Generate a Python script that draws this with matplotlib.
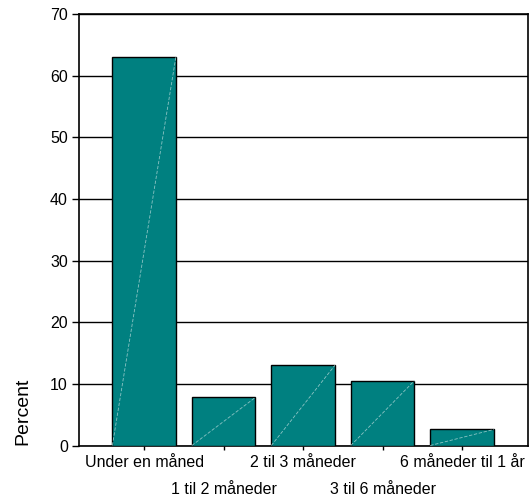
import numpy as np
import matplotlib.pyplot as plt

plt.rcParams['font.family'] = ['Liberation Sans', 'DejaVu Sans']

categories = ['Under en måned', '1 til 2 måneder', '2 til 3 måneder',
              '3 til 6 måneder', '6 måneder til 1 år']
percent = [63.1, 7.8, 13.0, 10.5, 2.6]
yticks = [0, 10, 20, 30, 40, 50, 60, 70]

fig = plt.figure(figsize=(5.29, 4.98), dpi=100)
ax = fig.add_axes([79 / 529, 1 - 445.5 / 498, 449 / 529, 431.5 / 498])

x = np.arange(len(categories))
width = 0.8
bars = ax.bar(x, percent, width=width, color='#008080', edgecolor='black',
              linewidth=1.0, zorder=3)

# faint diagonal across each bar
for b in bars:
    x0 = b.get_x()
    ax.plot([x0, x0 + b.get_width()], [0, b.get_height()], color='#8cc4c4',
            lw=0.6, ls=(0, (4, 2)), zorder=4)

ax.set_xlim(-0.82, len(categories) - 1 + 0.83)
ax.set_ylim(0, 70)
ax.set_yticks(yticks)
ax.yaxis.grid(True, color='black', lw=1.0, zorder=0)
ax.set_axisbelow(True)

for s in ax.spines.values():
    s.set_linewidth(1.2)
    s.set_color('black')

ax.tick_params(axis='y', length=5, width=1, labelsize=11.5, pad=3)
ax.tick_params(axis='x', length=3, width=1, labelsize=11.5, pad=4)
ax.set_xticks(x)
ax.set_xticklabels(categories)
# stagger the long labels over two rows
for t in ax.xaxis.get_major_ticks()[1::2]:
    t.set_pad(23)

ax.set_ylabel('Percent', fontsize=14)
ax.yaxis.set_label_coords(-0.125, 0.08)
ax.yaxis.label.set_verticalalignment('center')

fig.savefig('out.png', dpi=100)
